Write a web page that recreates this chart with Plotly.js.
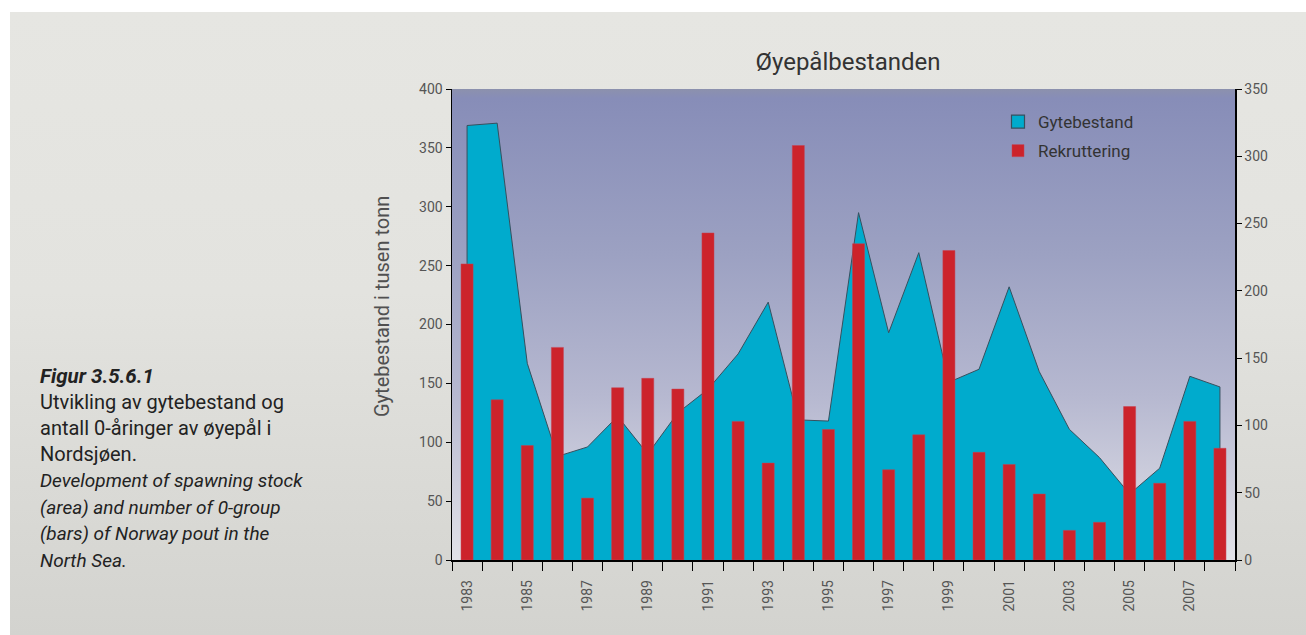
<!DOCTYPE html>
<html>
<head>
<meta charset="utf-8">
<script src="https://cdn.plot.ly/plotly-3.0.1.min.js"></script>
<style>
  html, body { margin: 0; padding: 0; background: #ffffff; }
  #wrap { position: relative; width: 1306px; height: 635px; overflow: hidden; }
  #panel { position: absolute; left: 10px; top: 12px; width: 1296px; height: 623px;
           background: linear-gradient(to bottom, #e6e6e2 0%, #e3e3df 45%, #d3d3cf 100%); }
  #chart { position: absolute; left: 0; top: 0; width: 1306px; height: 635px; }
</style>
</head>
<body>
<div id="wrap">
  <div id="panel"></div>
  <div id="chart"></div>
</div>
<script>
// ---- Data ----
const years = [1983, 1984, 1985, 1986, 1987, 1988, 1989, 1990, 1991, 1992, 1993, 1994, 1995,
               1996, 1997, 1998, 1999, 2000, 2001, 2002, 2003, 2004, 2005, 2006, 2007, 2008];
// Spawning stock (area), thousand tonnes, left axis
const gytebestand = [369, 371, 167, 88, 96, 122, 90, 125, 145, 175, 219, 119, 118,
                     295, 193, 261, 151, 162, 232, 160, 111, 87, 56, 78, 156, 147];
// Recruitment (bars), right axis
const rekruttering = [220, 119, 85, 158, 46, 128, 135, 127, 243, 103, 72, 308, 97,
                      235, 67, 93, 230, 80, 71, 49, 22, 28, 114, 57, 103, 83];
const labelYears = [1983, 1985, 1987, 1989, 1991, 1993, 1995, 1997, 1999, 2001, 2003, 2005, 2007];
const leftTicks = [0, 50, 100, 150, 200, 250, 300, 350, 400];
const rightTicks = [0, 50, 100, 150, 200, 250, 300, 350];

const title = 'Øyepålbestanden';
const yTitle = 'Gytebestand i tusen tonn';
const captionBold = 'Figur 3.5.6.1';
const captionNo = ['Utvikling av gytebestand og', 'antall 0-åringer av øyepål i', 'Nordsjøen.'];
const captionEn = ['Development of spawning stock', '(area) and number of 0-group', '(bars) of Norway pout in the', 'North Sea.'];

// ---- Layout geometry (pixels) ----
const W = 1306, H = 635;
const M = { l: 452, r: 71, t: 89, b: 75 };
const pw = W - M.l - M.r, ph = H - M.t - M.b;
const px2x = p => (p - M.l) / pw;
const py2y = p => (H - M.b - p) / ph;

const FONT = 'Roboto, "Liberation Sans", sans-serif';
const AREA_COLOR = '#00abcd';
const AREA_LINE = '#36505e';
const BAR_COLOR = '#cc232b';

// area closed down to zero at both ends
const areaX = [years[0]].concat(years, [years[years.length - 1]]);
const areaY = [0].concat(gytebestand, [0]);

const traces = [
  {
    type: 'scatter', mode: 'lines', name: 'Gytebestand',
    x: areaX, y: areaY, fill: 'toself', fillcolor: AREA_COLOR,
    line: { color: AREA_LINE, width: 1 },
    yaxis: 'y', hoverinfo: 'skip', showlegend: false
  },
  {
    // legend entry only (square swatch like the reference)
    type: 'scatter', mode: 'markers', name: 'Gytebestand', x: [null], y: [null], legendgroup: 'a',
    marker: { symbol: 'square', size: 13, color: AREA_COLOR, line: { color: AREA_LINE, width: 1.2 } },
    yaxis: 'y', showlegend: true, hoverinfo: 'skip'
  },
  {
    type: 'bar', name: 'Rekruttering', legendgroup: 'b',
    x: years, y: rekruttering, width: 0.4,
    marker: { color: BAR_COLOR, line: { color: '#c84050', width: 0.5 } },
    yaxis: 'y2'
  }
];

const gradSvg = "<svg xmlns='http://www.w3.org/2000/svg' width='10' height='100' preserveAspectRatio='none'>" +
  "<defs><linearGradient id='g' x1='0' y1='0' x2='0' y2='1'>" +
  "<stop offset='0' stop-color='#8c91ad'/>" +
  "<stop offset='0.02' stop-color='#878db8'/>" +
  "<stop offset='0.35' stop-color='#9ca1c2'/>" +
  "<stop offset='0.65' stop-color='#b6b8d0'/>" +
  "<stop offset='1' stop-color='#e2e2e8'/>" +
  "</linearGradient></defs><rect width='10' height='100' fill='url(#g)'/></svg>";

const annotations = [];
annotations.push({
  text: captionBold, xref: 'paper', yref: 'paper', x: px2x(38), y: py2y(376),
  xanchor: 'left', yanchor: 'middle', showarrow: false,
  font: { family: FONT, size: 20.5, color: '#222', weight: 'bold', style: 'italic' }
});
const capYs = [402, 428, 454, 480, 507, 533, 560];
captionNo.forEach((t, i) => annotations.push({
  text: t, xref: 'paper', yref: 'paper', x: px2x(38), y: py2y(capYs[i]),
  xanchor: 'left', yanchor: 'middle', showarrow: false,
  font: { family: FONT, size: 20, color: '#222' }
}));
captionEn.forEach((t, i) => annotations.push({
  text: t, xref: 'paper', yref: 'paper', x: px2x(38), y: py2y(capYs[i + 3]),
  xanchor: 'left', yanchor: 'middle', showarrow: false,
  font: { family: FONT, size: 19, color: '#222', style: 'italic' }
}));
annotations.push({
  text: yTitle, xref: 'paper', yref: 'paper', x: px2x(382), y: py2y(307),
  xanchor: 'center', yanchor: 'middle', textangle: -90, showarrow: false,
  font: { family: FONT, size: 20, color: '#505050' }
});

const layout = {
  width: W, height: H,
  margin: M,
  paper_bgcolor: 'rgba(0,0,0,0)',
  plot_bgcolor: 'rgba(0,0,0,0)',
  font: { family: FONT, color: '#555', size: 14 },
  title: { text: title, x: 848 / W, xanchor: 'center', y: 1 - 62 / H, yanchor: 'middle',
           font: { family: FONT, size: 24, color: '#333' } },
  showlegend: true,
  legend: { x: px2x(998), y: py2y(104), xanchor: 'left', yanchor: 'top',
            bgcolor: 'rgba(0,0,0,0)', font: { family: FONT, size: 17, color: '#333' },
            traceorder: 'grouped', tracegroupgap: 4 },
  barmode: 'overlay',
  xaxis: {
    range: [years[0] - 0.5, years[years.length - 1] + 0.5],
    tickmode: 'array', tickvals: labelYears, ticktext: labelYears.map(String),
    tickangle: -90, ticks: 'outside', ticklen: 9, tickcolor: 'rgba(0,0,0,0)',
    ticklabelstandoff: 4,
    minor: { tickmode: 'array', tickvals: years.map(y => y - 0.5).concat([years[years.length - 1] + 0.5]),
             ticks: 'outside', ticklen: 9, tickcolor: '#000', tickwidth: 1, showgrid: false },
    showline: true, linecolor: '#000', linewidth: 1.5,
    showgrid: false, zeroline: false, fixedrange: true,
    tickfont: { family: FONT, size: 14, color: '#555' }
  },
  yaxis: {
    range: [0, 400], tickmode: 'array', tickvals: leftTicks,
    ticks: 'outside', ticklen: 5, tickcolor: '#000',
    showline: true, linecolor: '#000', linewidth: 1.5,
    showgrid: false, zeroline: false,
    tickfont: { family: FONT, size: 14, color: '#555' }
  },
  yaxis2: {
    range: [0, 350], tickmode: 'array', tickvals: rightTicks,
    overlaying: 'y', side: 'right',
    ticks: 'outside', ticklen: 5, tickcolor: '#000',
    showline: true, linecolor: '#000', linewidth: 1.5,
    showgrid: false, zeroline: false,
    tickfont: { family: FONT, size: 14, color: '#555' }
  },
  images: [{
    source: 'data:image/svg+xml;charset=utf-8,' + encodeURIComponent(gradSvg),
    xref: 'paper', yref: 'paper', x: 0, y: 1, sizex: 1, sizey: 1,
    xanchor: 'left', yanchor: 'top', sizing: 'stretch', layer: 'below'
  }],
  annotations: annotations,
  bargap: 0
};

Plotly.newPlot('chart', traces, layout, { displayModeBar: false, staticPlot: true });
</script>
</body>
</html>
